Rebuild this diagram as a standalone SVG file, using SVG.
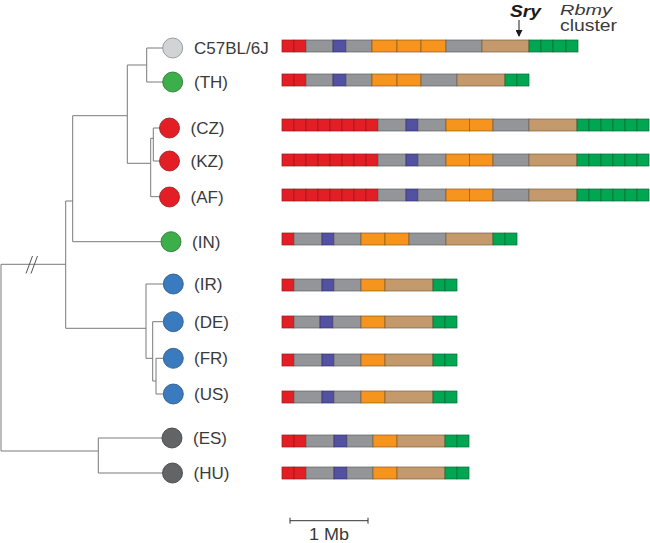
<svg xmlns="http://www.w3.org/2000/svg" xmlns:xlink="http://www.w3.org/1999/xlink" width="650" height="543" viewBox="0 0 650 543">
<style>
.r{fill:#e31e25;stroke:#8f1a1d;stroke-width:0.7}
.g{fill:#939598;stroke:#5f6062;stroke-width:0.7}
.b{fill:#5351a2;stroke:#34336b;stroke-width:0.7}
.o{fill:#f7941d;stroke:#8a5a1e;stroke-width:0.7}
.t{fill:#c49a6c;stroke:#7a5f40;stroke-width:0.7}
.n{fill:#00a651;stroke:#0b6b38;stroke-width:0.7}
.lbl{font-family:"Liberation Sans",Arial,sans-serif;font-size:17px;fill:#3a3a3a}
.tree{fill:none;stroke:#7a7a7a;stroke-width:1}
.cg{fill:#d1d3d4;stroke:#8a8a8a;stroke-width:0.8}
.cgr{fill:#3cae4a;stroke:#2a6e33;stroke-width:0.8}
.cr{fill:#e31e25;stroke:#8f1a1d;stroke-width:0.8}
.cb{fill:#3a7bbf;stroke:#2a4f7a;stroke-width:0.8}
.cd{fill:#636466;stroke:#3a3a3a;stroke-width:0.8}
</style>
<defs>
<g id="barWide">
<rect class="r" x="282" y="0" width="12" height="12"/><rect class="r" x="294" y="0" width="12" height="12"/><rect class="r" x="306" y="0" width="12" height="12"/><rect class="r" x="318" y="0" width="12" height="12"/><rect class="r" x="330" y="0" width="12" height="12"/><rect class="r" x="342" y="0" width="12" height="12"/><rect class="r" x="354" y="0" width="12" height="12"/><rect class="r" x="366" y="0" width="12" height="12"/>
<rect class="g" x="378" y="0" width="28" height="12"/><rect class="b" x="406" y="0" width="12" height="12"/><rect class="g" x="418" y="0" width="28" height="12"/>
<rect class="o" x="446" y="0" width="23.5" height="12"/><rect class="o" x="469.5" y="0" width="23.5" height="12"/>
<rect class="g" x="493" y="0" width="36" height="12"/><rect class="t" x="529" y="0" width="48" height="12"/>
<rect class="n" x="577" y="0" width="12" height="12"/><rect class="n" x="589" y="0" width="12" height="12"/><rect class="n" x="601" y="0" width="12" height="12"/><rect class="n" x="613" y="0" width="12" height="12"/><rect class="n" x="625" y="0" width="12" height="12"/><rect class="n" x="637" y="0" width="12" height="12"/>
</g>
<g id="barShort">
<rect class="r" x="282" y="0" width="12" height="12"/><rect class="g" x="294" y="0" width="28" height="12"/><rect class="b" x="322" y="0" width="12" height="12"/><rect class="g" x="334" y="0" width="27" height="12"/>
<rect class="o" x="361" y="0" width="24" height="12"/><rect class="t" x="385" y="0" width="48" height="12"/>
<rect class="n" x="433" y="0" width="12" height="12"/><rect class="n" x="445" y="0" width="12" height="12"/>
</g>
<g id="barES">
<rect class="r" x="282" y="0" width="12" height="12"/><rect class="r" x="294" y="0" width="12" height="12"/><rect class="g" x="306" y="0" width="28" height="12"/><rect class="b" x="334" y="0" width="13" height="12"/><rect class="g" x="347" y="0" width="26" height="12"/>
<rect class="o" x="373" y="0" width="24" height="12"/><rect class="t" x="397" y="0" width="48" height="12"/>
<rect class="n" x="445" y="0" width="12" height="12"/><rect class="n" x="457" y="0" width="12" height="12"/>
</g>
<marker id="ah" markerWidth="7" markerHeight="7" refX="6" refY="3.5" orient="auto" markerUnits="userSpaceOnUse">
<path d="M0,0 L7,3.5 L0,7 Z" fill="#1a1a1a"/>
</marker>
</defs>
<rect width="650" height="543" fill="#ffffff"/>

<g id="connectors" class="tree">
<path d="M163,48 H146.7 V82 H163"/>
<path d="M146.7,65 H127.3 V163.3 H150.7"/>
<path d="M150.7,138.3 V196.7 H159.5"/>
<path d="M150.7,138.3 H153.3"/>
<path d="M159.5,128 H153.3 V161 H159.5"/>
<path d="M127.3,115.7 H72.7 V241.7 H161"/>
<path d="M72.7,201 H65.7 V328.3 H146"/>
<path d="M65.7,264.3 H1 V451 H98.3"/>
<path d="M162,438 H98.3 V473 H162.5"/>
<path d="M163.3,284 H146 V358.3 H152.7"/>
<path d="M163.3,321.7 H152.7 V381 H156"/>
<path d="M163.3,358.3 H156 V394 H163.3"/>
<path d="M26,273.5 L32.5,256 M31,273.5 L37.5,256" stroke="#555"/>
</g>

<g id="annotations">
<text x="510" y="17" font-family="'Liberation Sans',Arial,sans-serif" font-size="16" font-weight="bold" font-style="italic" fill="#1a1a1a" textLength="31" lengthAdjust="spacingAndGlyphs">Sry</text>
<line x1="519" y1="20" x2="519" y2="36" stroke="#1a1a1a" stroke-width="1" marker-end="url(#ah)"/>
<text x="560" y="14.5" font-family="'Liberation Sans',Arial,sans-serif" font-size="15" font-style="italic" fill="#3a3a3a" textLength="52" lengthAdjust="spacingAndGlyphs">Rbmy</text>
<text x="560" y="31" font-family="'Liberation Sans',Arial,sans-serif" font-size="16" fill="#3a3a3a" textLength="57" lengthAdjust="spacingAndGlyphs">cluster</text>
</g>

<g id="node-C57BL6J">
<circle class="cg" cx="172.7" cy="48" r="10"/>
<text class="lbl" x="194" y="54">C57BL/6J</text>
<g transform="translate(0,40)">
<rect class="r" x="282" y="0" width="12" height="12"/><rect class="r" x="294" y="0" width="12" height="12"/><rect class="g" x="306" y="0" width="27" height="12"/><rect class="b" x="333" y="0" width="13" height="12"/><rect class="g" x="346" y="0" width="26" height="12"/>
<rect class="o" x="372" y="0" width="25" height="12"/><rect class="o" x="397" y="0" width="24" height="12"/><rect class="o" x="421" y="0" width="25" height="12"/>
<rect class="g" x="446" y="0" width="36" height="12"/><rect class="t" x="482" y="0" width="47" height="12"/>
<rect class="n" x="529" y="0" width="12" height="12"/><rect class="n" x="541" y="0" width="12" height="12"/><rect class="n" x="553" y="0" width="13" height="12"/><rect class="n" x="566" y="0" width="12" height="12"/>
</g>
</g>

<g id="node-TH">
<circle class="cgr" cx="172.7" cy="82" r="10"/>
<text class="lbl" x="194" y="88">(TH)</text>
<g transform="translate(0,74)">
<rect class="r" x="282" y="0" width="12" height="12"/><rect class="r" x="294" y="0" width="12" height="12"/><rect class="g" x="306" y="0" width="27" height="12"/><rect class="b" x="333" y="0" width="13" height="12"/><rect class="g" x="346" y="0" width="26" height="12"/>
<rect class="o" x="372" y="0" width="25" height="12"/><rect class="o" x="397" y="0" width="24" height="12"/>
<rect class="g" x="421" y="0" width="36" height="12"/><rect class="t" x="457" y="0" width="48" height="12"/>
<rect class="n" x="505" y="0" width="12" height="12"/><rect class="n" x="517" y="0" width="12" height="12"/>
</g>
</g>

<g id="node-CZ">
<circle class="cr" cx="169.5" cy="128" r="10"/>
<text class="lbl" x="190.5" y="134">(CZ)</text>
<use xlink:href="#barWide" href="#barWide" transform="translate(0,119)"/>
</g>

<g id="node-KZ">
<circle class="cr" cx="169.5" cy="161" r="10"/>
<text class="lbl" x="190.5" y="167">(KZ)</text>
<use xlink:href="#barWide" href="#barWide" transform="translate(0,154)"/>
</g>

<g id="node-AF">
<circle class="cr" cx="169.5" cy="197" r="10"/>
<text class="lbl" x="190.5" y="203">(AF)</text>
<use xlink:href="#barWide" href="#barWide" transform="translate(0,189)"/>
</g>

<g id="node-IN">
<circle class="cgr" cx="171" cy="241.7" r="10"/>
<text class="lbl" x="192" y="247.7">(IN)</text>
<g transform="translate(0,233)">
<rect class="r" x="282" y="0" width="12" height="12"/><rect class="g" x="294" y="0" width="28" height="12"/><rect class="b" x="322" y="0" width="12" height="12"/><rect class="g" x="334" y="0" width="27" height="12"/>
<rect class="o" x="361" y="0" width="24" height="12"/><rect class="o" x="385" y="0" width="24" height="12"/>
<rect class="g" x="409" y="0" width="37" height="12"/><rect class="t" x="446" y="0" width="47" height="12"/>
<rect class="n" x="493" y="0" width="12" height="12"/><rect class="n" x="505" y="0" width="12" height="12"/>
</g>
</g>

<g id="node-IR">
<circle class="cb" cx="173.3" cy="284" r="10"/>
<text class="lbl" x="194" y="290">(IR)</text>
<use xlink:href="#barShort" href="#barShort" transform="translate(0,279)"/>
</g>

<g id="node-DE">
<circle class="cb" cx="173.3" cy="321.7" r="10"/>
<text class="lbl" x="194" y="327.7">(DE)</text>
<g transform="translate(0,316)">
<rect class="r" x="282" y="0" width="12" height="12"/><rect class="g" x="294" y="0" width="26" height="12"/><rect class="b" x="320" y="0" width="13" height="12"/><rect class="g" x="333" y="0" width="28" height="12"/>
<rect class="o" x="361" y="0" width="24" height="12"/><rect class="t" x="385" y="0" width="48" height="12"/>
<rect class="n" x="433" y="0" width="12" height="12"/><rect class="n" x="445" y="0" width="12" height="12"/>
</g>
</g>

<g id="node-FR">
<circle class="cb" cx="173.3" cy="358.3" r="10"/>
<text class="lbl" x="194" y="364.3">(FR)</text>
<use xlink:href="#barShort" href="#barShort" transform="translate(0,354)"/>
</g>

<g id="node-US">
<circle class="cb" cx="173.3" cy="394" r="10"/>
<text class="lbl" x="194" y="400">(US)</text>
<use xlink:href="#barShort" href="#barShort" transform="translate(0,391)"/>
</g>

<g id="node-ES">
<circle class="cd" cx="172" cy="438" r="10"/>
<text class="lbl" x="193" y="444">(ES)</text>
<use xlink:href="#barES" href="#barES" transform="translate(0,435)"/>
</g>

<g id="node-HU">
<circle class="cd" cx="172.5" cy="473" r="10"/>
<text class="lbl" x="193.5" y="479">(HU)</text>
<use xlink:href="#barES" href="#barES" transform="translate(0,467)"/>
</g>

<g id="scale">
<path d="M290,520.7 H368 M290,517.7 V523.7 M368,517.7 V523.7" fill="none" stroke="#333" stroke-width="1"/>
<text class="lbl" x="309" y="539.5" textLength="40" lengthAdjust="spacingAndGlyphs">1 Mb</text>
</g>
</svg>
